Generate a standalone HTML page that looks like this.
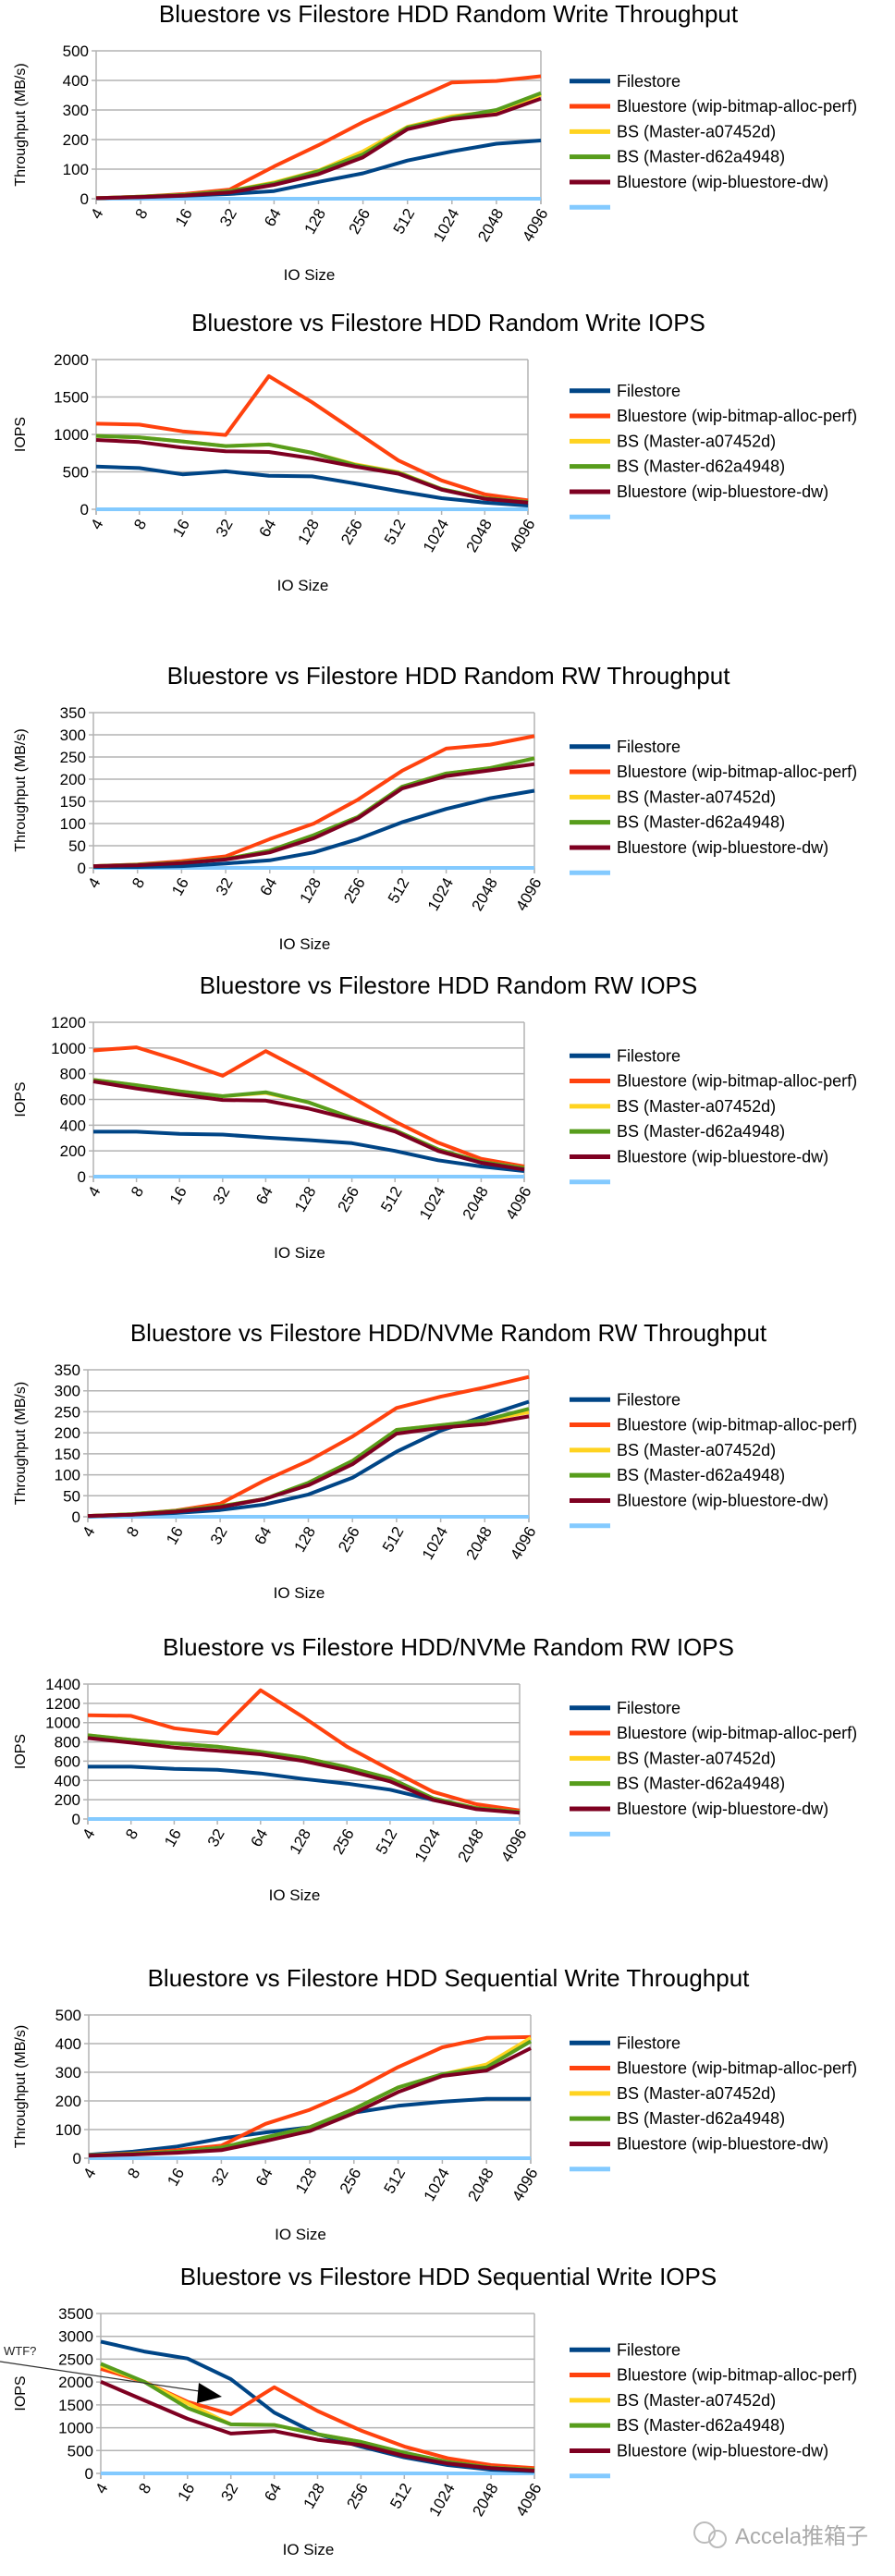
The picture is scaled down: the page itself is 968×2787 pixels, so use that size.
<!DOCTYPE html>
<html><head><meta charset="utf-8">
<style>
html,body{margin:0;padding:0;background:#fff;}
svg{display:block;font-family:"Liberation Sans","Noto Sans CJK SC",sans-serif;}
</style></head>
<body>
<svg id="root" width="968" height="2787" viewBox="0 0 968 2787" xmlns="http://www.w3.org/2000/svg">
<g id="charts"></g>
<g>
<text x="4" y="2548" font-size="13" fill="#222">WTF?</text>
<line x1="0" y1="2555" x2="222" y2="2588" stroke="#333" stroke-width="1.2"/>
<polygon points="240,2593 215,2578 213,2600" fill="#000"/>
</g>
<g>
<circle cx="762" cy="2740" r="11" fill="none" stroke="#bbb" stroke-width="2"/>
<circle cx="776" cy="2747" r="9" fill="none" stroke="#bbb" stroke-width="2"/>
<text x="795" y="2752" font-size="24" fill="#aaa">Accela推箱子</text>
</g>
</svg>
<script>
const categories = ["4","8","16","32","64","128","256","512","1024","2048","4096"];
const seriesNames = ["Filestore","Bluestore (wip-bitmap-alloc-perf)","BS (Master-a07452d)","BS (Master-d62a4948)","Bluestore (wip-bluestore-dw)",""];
const seriesColors = ["#004586","#ff420e","#ffd320","#579d1c","#7e0021","#83caff"];
const zeros = [0,0,0,0,0,0,0,0,0,0,0];

// Chart 1: Random Write Throughput
const c1Filestore = [2,5,10,16,26,57,86,129,160,186,197];
const c1Bitmap = [2,7,16,31,109,181,259,326,393,398,414];
const c1A07452d = [2,7,13,26,55,95,160,243,279,295,352];
const c1D62a4948 = [2,7,13,26,52,93,150,241,274,300,357];
const c1Dw = [2,6,11,21,47,83,140,235,269,285,338];
const c1Ticks = [0,100,200,300,400,500];
// Chart 2: Random Write IOPS
const c2Filestore = [570,550,467,508,447,439,344,242,148,90,49];
const c2Bitmap = [1143,1131,1041,992,1779,1430,1041,652,385,200,119];
const c2A07452d = [980,959,906,844,865,754,600,495,270,148,98];
const c2D62a4948 = [980,959,906,844,865,754,590,488,270,148,98];
const c2Dw = [926,898,824,775,766,680,570,475,262,139,90];
const c2Ticks = [0,500,1000,1500,2000];
// Chart 3: Random RW Throughput
const c3Filestore = [2,2,4,10,17,35,65,103,133,157,174];
const c3Bitmap = [4,8,15,26,65,100,154,219,269,278,297];
const c3A07452d = [4,7,12,20,39,74,115,183,213,225,247];
const c3D62a4948 = [4,7,12,20,39,74,115,183,213,225,247];
const c3Dw = [4,6,11,19,35,67,112,179,207,220,234];
const c3Ticks = [0,50,100,150,200,250,300,350];
// Chart 4: Random RW IOPS
const c4Filestore = [349,349,332,327,303,284,260,200,127,79,43];
const c4Bitmap = [981,1005,901,784,976,800,615,428,264,139,79];
const c4A07452d = [752,711,663,625,650,577,457,361,212,115,67];
const c4D62a4948 = [752,711,663,625,656,577,457,361,212,115,67];
const c4Dw = [740,685,639,596,591,529,445,351,200,108,55];
const c4Ticks = [0,200,400,600,800,1000,1200];
// Chart 5: HDD/NVMe Random RW Throughput
const c5Filestore = [1,5,9,16,29,53,93,155,205,240,274];
const c5Bitmap = [2,6,15,31,86,133,191,259,286,308,333];
const c5A07452d = [2,6,14,25,42,81,133,207,218,230,249];
const c5D62a4948 = [2,6,14,25,42,81,133,207,218,230,257];
const c5Dw = [2,5,12,23,42,75,125,198,212,221,239];
const c5Ticks = [0,50,100,150,200,250,300,350];
// Chart 6: HDD/NVMe Random RW IOPS
const c6Filestore = [543,543,521,511,473,415,367,304,198,112,64];
const c6Bitmap = [1077,1070,942,888,1336,1054,751,511,281,153,89];
const c6A07452d = [869,821,783,751,697,633,537,422,214,112,73];
const c6D62a4948 = [869,821,783,751,697,633,537,422,214,112,73];
const c6Dw = [840,792,741,709,671,601,505,390,198,102,64];
const c6Ticks = [0,200,400,600,800,1000,1200,1400];
// Chart 7: Sequential Write Throughput
const c7Filestore = [12,23,41,69,90,108,159,183,197,207,207];
const c7Bitmap = [10,17,28,44,120,169,236,318,387,420,423];
const c7A07452d = [10,15,23,37,73,108,172,247,293,327,420];
const c7D62a4948 = [10,15,23,37,73,108,172,247,293,317,408];
const c7Dw = [9,13,19,28,60,95,157,231,287,306,384];
const c7Ticks = [0,100,200,300,400,500];
// Chart 8: Sequential Write IOPS
const c8Filestore = [2885,2669,2514,2061,1331,858,588,351,182,81,47];
const c8Bitmap = [2291,2007,1568,1297,1885,1365,939,588,331,182,115];
const c8A07452d = [2358,2007,1534,1074,1061,858,689,453,250,128,81];
const c8D62a4948 = [2399,2007,1432,1074,1061,858,689,453,250,128,81];
const c8Dw = [2007,1601,1196,872,926,736,622,385,216,115,61];
const c8Ticks = [0,500,1000,1500,2000,2500,3000,3500];

const charts = [
 {title:"Bluestore vs Filestore HDD Random Write Throughput", yTitle:"Throughput (MB/s)", ticks:c1Ticks, data:[c1Filestore,c1Bitmap,c1A07452d,c1D62a4948,c1Dw,zeros], top:55, bottom:215, left:104, right:585},
 {title:"Bluestore vs Filestore HDD Random Write IOPS", yTitle:"IOPS", ticks:c2Ticks, data:[c2Filestore,c2Bitmap,c2A07452d,c2D62a4948,c2Dw,zeros], top:389, bottom:551, left:104, right:571},
 {title:"Bluestore vs Filestore HDD Random RW Throughput", yTitle:"Throughput (MB/s)", ticks:c3Ticks, data:[c3Filestore,c3Bitmap,c3A07452d,c3D62a4948,c3Dw,zeros], top:771, bottom:939, left:101, right:578},
 {title:"Bluestore vs Filestore HDD Random RW IOPS", yTitle:"IOPS", ticks:c4Ticks, data:[c4Filestore,c4Bitmap,c4A07452d,c4D62a4948,c4Dw,zeros], top:1106, bottom:1273, left:101, right:567},
 {title:"Bluestore vs Filestore HDD/NVMe Random RW Throughput", yTitle:"Throughput (MB/s)", ticks:c5Ticks, data:[c5Filestore,c5Bitmap,c5A07452d,c5D62a4948,c5Dw,zeros], top:1482, bottom:1641, left:95, right:572},
 {title:"Bluestore vs Filestore HDD/NVMe Random RW IOPS", yTitle:"IOPS", ticks:c6Ticks, data:[c6Filestore,c6Bitmap,c6A07452d,c6D62a4948,c6Dw,zeros], top:1822, bottom:1968, left:95, right:562},
 {title:"Bluestore vs Filestore HDD Sequential Write Throughput", yTitle:"Throughput (MB/s)", ticks:c7Ticks, data:[c7Filestore,c7Bitmap,c7A07452d,c7D62a4948,c7Dw,zeros], top:2180, bottom:2335, left:96, right:574},
 {title:"Bluestore vs Filestore HDD Sequential Write IOPS", yTitle:"IOPS", ticks:c8Ticks, data:[c8Filestore,c8Bitmap,c8A07452d,c8D62a4948,c8Dw,zeros], top:2503, bottom:2676, left:109, right:578}
];

const NS = "http://www.w3.org/2000/svg";
const root = document.getElementById("charts");
function mk(tag, attrs, parent, text){
  const e = document.createElementNS(NS, tag);
  for (const k in attrs) e.setAttribute(k, attrs[k]);
  if (text !== undefined) e.textContent = text;
  parent.appendChild(e);
  return e;
}

charts.forEach((c, ci) => {
  const g = mk("g", {}, root);
  
  
  const maxV = c.ticks[c.ticks.length-1];
  const yS = v => c.bottom - (v/maxV)*(c.bottom - c.top);
  const xS = i => c.left + i*(c.right - c.left)/(categories.length-1);

  const t = mk("text", {x:485, y:c.top-31, "font-size":26, "text-anchor":"middle", fill:"#000"}, g, c.title);
  
  

  c.ticks.forEach(v => {
    const gl = mk("line", {x1:c.left-5, x2:c.right, y1:yS(v), y2:yS(v), stroke:"#b3b3b3", "stroke-width":1.5}, g);
    
    
    const tl = mk("text", {x:c.left-8, y:yS(v)+6, "font-size":17, "text-anchor":"end", fill:"#000"}, g, String(v));
    
    
  });
  mk("line", {x1:c.left, x2:c.left, y1:c.top, y2:c.bottom+6, stroke:"#b3b3b3", "stroke-width":1.5}, g);
  mk("line", {x1:c.right, x2:c.right, y1:c.top, y2:c.bottom+6, stroke:"#b3b3b3", "stroke-width":1.5}, g);
  categories.forEach((cat, i) => {
    mk("line", {x1:xS(i), x2:xS(i), y1:c.bottom, y2:c.bottom+6, stroke:"#b3b3b3", "stroke-width":1.5}, g);
    const ax = xS(i)+3, ay = c.bottom+12;
    const xl = mk("text", {x:ax, y:ay, "font-size":17, "text-anchor":"end", fill:"#000",
      transform:"rotate(-60 "+ax+" "+ay+")", dy:"0.35em"}, g, cat);
    
    
  });
  const xt = mk("text", {x:(c.left+c.right)/2-10, y:c.bottom+88, "font-size":17, "text-anchor":"middle", fill:"#000"}, g, "IO Size");
  
  
  const my = (c.top+c.bottom)/2;
  const yt = mk("text", {x:27, y:my, "font-size":16, "text-anchor":"middle", fill:"#000", transform:"rotate(-90 27 "+my+")"}, g, c.yTitle);
  
  

  const order = [5,0,1,2,3,4];
  order.forEach(si => {
    const pts = c.data[si].map((v,i) => xS(i).toFixed(1)+","+yS(v).toFixed(1)).join(" ");
    const pl = mk("polyline", {points:pts, fill:"none", stroke:seriesColors[si], "stroke-width":4, "stroke-linejoin":"round"}, g);
    
    
  });

  const lc = my + 21;
  seriesNames.forEach((n, si) => {
    const y = lc + (si - 2.5)*27.3;
    const le = mk("g", {}, g);
    
    
    mk("line", {x1:616, x2:660, y1:y, y2:y, stroke:seriesColors[si], "stroke-width":5}, le);
    if (n) mk("text", {x:667, y:y+6, "font-size":18, fill:"#000"}, le, n);
  });
});
</script>
</body></html>
